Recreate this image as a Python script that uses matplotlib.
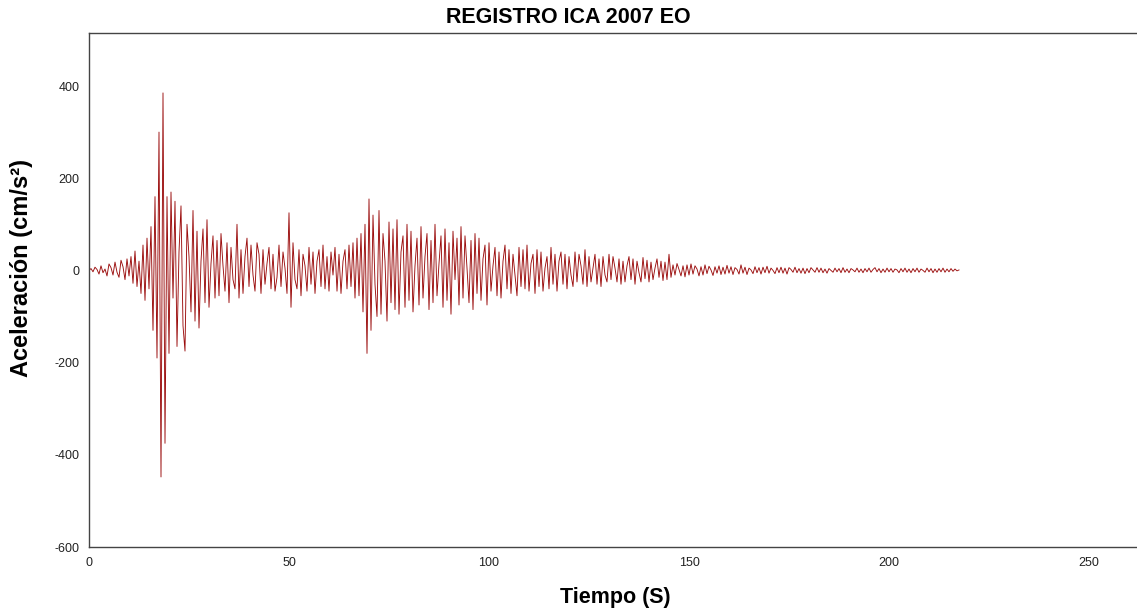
import numpy as np
import matplotlib
matplotlib.use("Agg")
from matplotlib import pyplot as plt

plt.rcParams['font.family'] = ['Liberation Sans', 'DejaVu Sans']
plt.rcParams['axes.unicode_minus'] = False

# acceleration, one value every 0.5 s (cm/s2)
dt = 0.5
acc_0_20 = [0, 4, -3, 7, 2, -8, 10, -5, 3, -12, 14, 6, -10, 18, -4, -15, 22, 8, -20, 25,
            -12, 30, -28, 42, -35, 20, -50, 55, -65, 70, -40, 95, -130, 160, -190, 300, -448, 385, -375, 160]
acc_20_40 = [-180, 170, -60, 150, -165, 40, 140, -120, -175, 100, 30, -90, 130, -110, 85, -125, 20, 90, -70, 110,
             -80, 15, 75, -60, 65, -55, 80, 10, -45, 60, -70, 50, -20, -40, 100, -60, 45, -50, 30, 70]
acc_40_60 = [-35, 55, -10, -45, 60, 35, -50, 45, -30, 15, 50, -40, 35, -45, -15, 55, -35, 40, 5, -50,
             125, -80, 60, -20, -40, 45, -55, 35, 10, -45, 50, -30, 40, -50, 20, 45, -35, 55, -40, 30]
acc_60_80 = [-45, 40, -10, 50, -45, 35, -50, 20, 45, -40, 55, -35, 60, -60, 70, -55, 80, -90, 100, -180,
             155, -130, 120, -30, -100, 130, -95, 80, 20, -110, 105, -70, 90, -85, 110, -95, 40, 75, -80, 100]
acc_80_100 = [-65, 85, -90, 10, 70, -75, 95, -60, 30, 80, -85, 65, -70, 100, -55, 15, 75, -80, 90, -65,
              60, -95, 85, -20, 70, -75, 95, -60, 75, 5, -70, 65, -85, 80, -50, 70, -65, 25, 55, -75]
acc_100_120 = [60, -45, 10, 50, -55, 40, -60, 20, 55, -40, 45, -50, 35, -10, -55, 50, -35, 45, -40, 55,
               -45, 15, 35, -50, 45, -35, 40, -45, 5, 30, -40, 50, -30, 35, -45, 20, 40, -30, 35, -40]
acc_120_140 = [30, -10, -35, 40, -25, 35, 10, -30, 45, -35, 30, -25, 5, 35, -30, 25, -35, 30, -10, -25,
               35, -20, 30, 5, -25, 25, -30, 20, -25, 10, 30, -20, 25, -30, 20, -5, -25, 28, -18, 22]
acc_140_160 = [-25, 18, -20, 5, 25, -15, 20, -22, 18, -20, 35, -15, 12, -10, 15, 2, -12, 10, -14, 12,
               -10, 14, -8, 10, 3, -12, 8, -10, 12, -7, 9, 1, -11, 8, -6, 10, -9, 7, -8, 11]
acc_160_180 = [-6, 8, -9, 6, 2, -8, 12, -6, 7, -9, 5, 1, -7, 8, -5, 6, -8, 7, -5, 9,
               -6, 5, 0, -7, 6, -5, 7, -6, 5, -8, 6, 2, -4, 7, -5, 4, -6, 5, -7, 4]
acc_180_200 = [-5, 6, 1, -4, 6, -4, 5, -5, 3, -6, 4, 0, -4, 5, -3, 4, -5, 6, -4, 3,
               -5, 4, 1, -3, 5, -4, 3, -5, 4, -3, 5, -4, 2, 6, -3, 4, -5, 3, -4, 5]
acc_200_218 = [-3, 4, -4, 3, 1, -5, 4, -3, 5, -4, 3, -5, 4, -3, 5, -4, 3, 0, -4, 5,
               -3, 4, -5, 3, -4, 4, -3, 5, -4, 3, -3, 4, -2, 3, -1, 1]

acc = np.array(acc_0_20 + acc_20_40 + acc_40_60 + acc_60_80 + acc_80_100 + acc_100_120
               + acc_120_140 + acc_140_160 + acc_160_180 + acc_180_200 + acc_200_218, dtype=float)
t = np.arange(len(acc)) * dt

xticks = [0, 50, 100, 150, 200, 250]
yticks = [-600, -400, -200, 0, 200, 400]

fig = plt.figure(figsize=(11.37, 6.12), dpi=100)
ax = fig.add_axes([89 / 1137, 65 / 612, 1052 / 1137, 514 / 612])

ax.plot(t, acc, color='#9b0d0d', linewidth=0.65)

ax.set_xlim(0, 263)
ax.set_ylim(-600, 515)
ax.set_xticks(xticks)
ax.set_yticks(yticks)
ax.tick_params(length=0, labelsize=9, colors='#222222', pad=7)
for s in ax.spines.values():
    s.set_color('#444444')
    s.set_linewidth(1.0)
ax.spines['right'].set_visible(False)

fig.text(0.5, 0.972, 'REGISTRO ICA 2007 EO', ha='center', va='center',
         fontsize=15.5, fontweight='bold')
ax.set_xlabel('Tiempo (S)', fontsize=15.5, fontweight='bold', labelpad=13)
ax.set_ylabel('Aceleración (cm/s²)', fontsize=17, fontweight='bold')
ax.yaxis.set_label_coords(-0.053, 0.543)

fig.savefig('out.png', dpi=100)
